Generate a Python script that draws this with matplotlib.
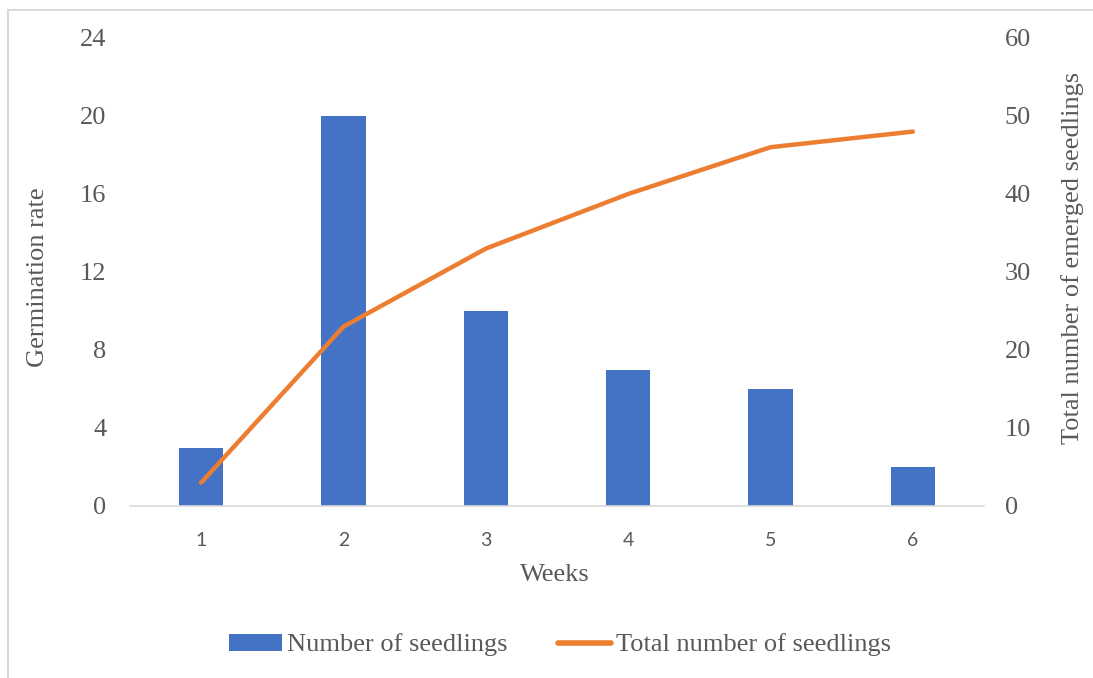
import matplotlib
matplotlib.use("Agg")
import matplotlib.pyplot as plt
from matplotlib.lines import Line2D
from matplotlib.patches import Patch

weeks = ["1", "2", "3", "4", "5", "6"]
seedlings = [3, 20, 10, 7, 6, 2]
total_seedlings = [3, 23, 33, 40, 46, 48]
left_ticks = [0, 4, 8, 12, 16, 20, 24]
right_ticks = [0, 10, 20, 30, 40, 50, 60]

BAR_COLOR = "#4472C4"
LINE_COLOR = "#ED7D31"
TEXT_COLOR = "#595959"
SERIF = ["Liberation Serif", "DejaVu Serif"]
FS = 19

fig = plt.figure(figsize=(10.93, 6.78), dpi=100)
ax = fig.add_axes([130 / 1093, 1 - 506 / 678, (984 - 130) / 1093, (506 - 38) / 678])
ax2 = ax.twinx()

x = list(range(len(weeks)))
ax.bar(x, seedlings, width=0.31, color=BAR_COLOR, zorder=2)
ax2.plot(x, total_seedlings, color=LINE_COLOR, lw=3.2, solid_capstyle="round", zorder=3)

ax.set_xlim(-0.5, len(weeks) - 0.5)
ax.set_ylim(0, 24)
ax2.set_ylim(0, 60)
ax.set_yticks(left_ticks)
ax2.set_yticks(right_ticks)
ax.set_xticks(x)
ax.set_xticklabels(weeks, family=["Lato", "DejaVu Sans"], fontsize=14, color=TEXT_COLOR)

for a in (ax, ax2):
    for s in a.spines.values():
        s.set_visible(False)
    a.tick_params(length=0)
ax.spines["bottom"].set_visible(True)
ax.spines["bottom"].set_color("#D9D9D9")
ax.spines["bottom"].set_linewidth(1.2)

ax.tick_params(axis="x", pad=19)
ax.tick_params(axis="y", pad=17)
ax2.tick_params(axis="y", pad=15)
for lab in ax.get_yticklabels() + ax2.get_yticklabels():
    lab.set_family(SERIF)
    lab.set_fontsize(FS)
    lab.set_color(TEXT_COLOR)

fig.text(38 / 1093, 1 - 277 / 678, "Germination rate", rotation=90, ha="center", va="center",
         family=SERIF, fontsize=FS, color=TEXT_COLOR)
fig.text(1073 / 1093, 1 - 258 / 678, "Total number of emerged seedlings", rotation=90,
         ha="center", va="center", family=SERIF, fontsize=FS, color=TEXT_COLOR)
fig.text(555 / 1093, 1 - 575 / 678, "Weeks", ha="center", va="center",
         family=SERIF, fontsize=FS, color=TEXT_COLOR)

handles = [Patch(facecolor=BAR_COLOR, edgecolor="none"),
           Line2D([0], [0], color=LINE_COLOR, lw=4, solid_capstyle="round")]
leg = fig.legend(handles, ["Number of seedlings", "Total number of seedlings"],
                 loc="center", bbox_to_anchor=(560 / 1093, 1 - 645 / 678), ncol=2,
                 frameon=False, prop={"family": SERIF, "size": FS},
                 handlelength=2.0, handleheight=0.6, handletextpad=0.2, columnspacing=1.9)
for t in leg.get_texts():
    t.set_color(TEXT_COLOR)

# chart-area border
fig.add_artist(Line2D([8 / 1093, 8 / 1093], [0, 1 - 10 / 678], transform=fig.transFigure,
                      color="#D9D9D9", lw=1.5))
fig.add_artist(Line2D([8 / 1093, 1], [1 - 10 / 678, 1 - 10 / 678], transform=fig.transFigure,
                      color="#D9D9D9", lw=1.5))

fig.savefig("out.png", dpi=100)
